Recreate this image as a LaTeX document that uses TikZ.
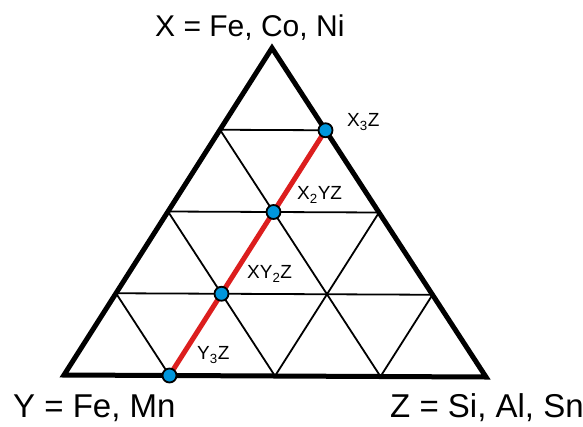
\documentclass[tikz,border=0pt]{standalone}
\usepackage{fontspec}
\setmainfont{Liberation Sans}
\usetikzlibrary{calc}
\definecolor{dotblue}{RGB}{0,150,220}
\definecolor{linered}{RGB}{220,30,30}
\begin{document}
\begin{tikzpicture}[x=1pt,y=-1pt,
  outer/.style={line width=5pt,line join=miter},
  gridline/.style={line width=1.8pt},
  redline/.style={draw=linered,line width=5pt},
  dot/.style={circle,fill=dotblue,draw=black,line width=1.8pt,minimum size=14pt,inner sep=0pt},
  small/.style={font=\fontsize{19}{19}\selectfont,inner sep=0pt},
  big/.style={font=\fontsize{30}{30}\selectfont,inner sep=0pt,anchor=base west},
  bigger/.style={font=\fontsize{33}{33}\selectfont,inner sep=0pt,anchor=base west}]
\useasboundingbox (0,0) rectangle (583,426);
\coordinate (A) at (272,48);
\coordinate (B) at (64,375);
\coordinate (C) at (486,377);
\foreach \k in {1,2,3}{
  \coordinate (L\k) at ($(A)!\k/4!(B)$);
  \coordinate (R\k) at ($(A)!\k/4!(C)$);
  \coordinate (D\k) at ($(B)!\k/4!(C)$);
}
\foreach \k [evaluate=\k as \m using int(4-\k)] in {1,2,3}{
  \draw[gridline] (L\k) -- (R\k);
  \draw[gridline] (L\k) -- (D\m);
  \draw[gridline] (R\k) -- (D\k);
}
\draw[outer] (A) -- (B) -- (C) -- cycle;
\draw[redline] (D1) -- (R1);
\node[dot] (p3) at (R1) {};
\node[dot] (p2) at ($(D1)!2/3!(R1)$) {};
\node[dot] (p1) at ($(D1)!1/3!(R1)$) {};
\node[dot] (p0) at (D1) {};
\node[small,anchor=west] (l3) at (347,122) {X\textsubscript{3}Z};
\node[small,anchor=west] (l2) at (297,195) {X\textsubscript{2}YZ};
\node[small,anchor=west] (l1) at (247,274) {XY\textsubscript{2}Z};
\node[small,anchor=west] (l0) at (197,355) {Y\textsubscript{3}Z};
\node[big] (tx) at (155,36) {X = Fe, Co, Ni};
\node[bigger] (ty) at (13,417) {Y = Fe, Mn};
\node[bigger] (tz) at (390,417) {Z = Si, Al, Sn};
\end{tikzpicture}
\end{document}
